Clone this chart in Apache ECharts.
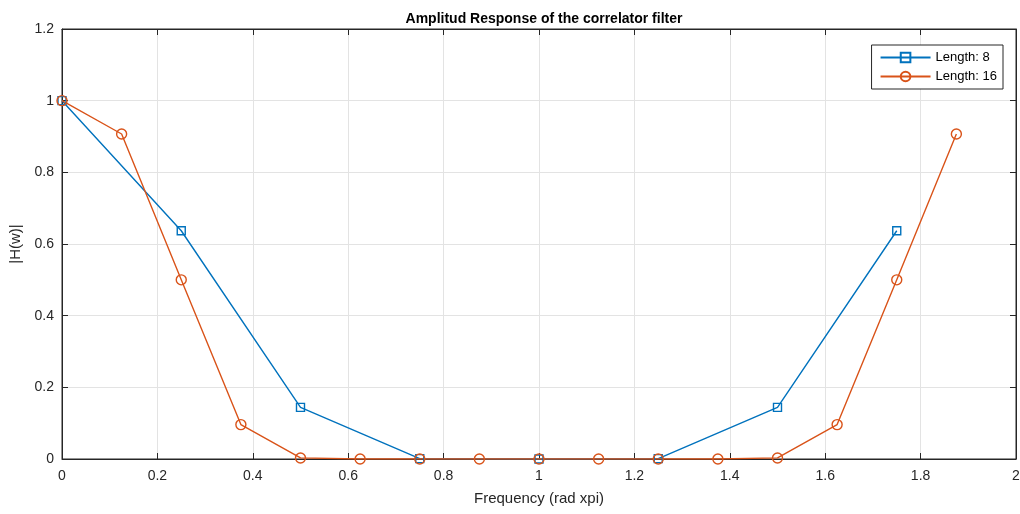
<!DOCTYPE html>
<html>
<head>
<meta charset="utf-8">
<script src="https://cdn.jsdelivr.net/npm/echarts@6/dist/echarts.min.js"></script>
<style>
  html, body { margin: 0; padding: 0; background: #fff; }
  #chart { width: 1020px; height: 514px; }
</style>
</head>
<body>
<div id="chart"></div>
<script>
// frequency points (rad x pi)
var freq8 = [0, 0.25, 0.5, 0.75, 1, 1.25, 1.5, 1.75];
var amp8 = [1, 0.637, 0.144, 0.001, 0, 0.001, 0.144, 0.637];
var freq16 = [0, 0.125, 0.25, 0.375, 0.5, 0.625, 0.75, 0.875, 1, 1.125, 1.25, 1.375, 1.5, 1.625, 1.75, 1.875];
var amp16 = [1, 0.907, 0.5, 0.096, 0.003, 0, 0, 0, 0, 0, 0, 0, 0.003, 0.096, 0.5, 0.907];
var seriesNames = ["Length: 8", "Length: 16"];
var seriesColors = ["#0072BD", "#D95319"];

function pairs(xs, ys) {
  return xs.map(function (x, i) {
    return [x, ys[i]];
  });
}

var font = "Liberation Sans, Arial, Helvetica, sans-serif";
var axisColor = "#262626";
var myChart = echarts.init(document.getElementById("chart"));

function tickStyle() {
  return { show: true, inside: true, length: 6, lineStyle: { color: axisColor } };
}

var option = {
  animation: false,
  textStyle: { fontFamily: font },
  title: {
    text: "Amplitud Response of the correlator filter",
    left: 539,
    textAlign: "center",
    top: 7,
    textStyle: { fontSize: 14, fontWeight: "bold", color: "#000", fontFamily: font },
  },
  grid: {
    left: 62,
    right: 4,
    top: 29,
    bottom: 55,
    outerBoundsMode: "none",
    containLabel: false,
    show: true,
    borderColor: axisColor,
    borderWidth: 1,
    backgroundColor: "#fff",
  },
  legend: {
    right: 17,
    top: 45,
    orient: "vertical",
    itemWidth: 50,
    itemHeight: 12,
    itemGap: 6,
    padding: [6, 6, 6, 8],
    borderColor: axisColor,
    borderWidth: 1,
    backgroundColor: "#fff",
    textStyle: { fontSize: 13, color: "#000", fontFamily: font },
    data: seriesNames,
  },
  xAxis: [
    {
      type: "value",
      min: 0,
      max: 2,
      interval: 0.2,
      name: "Frequency (rad xpi)",
      nameLocation: "middle",
      nameGap: 32,
      nameTextStyle: { fontSize: 15, color: axisColor },
      axisLine: { show: true, onZero: false, lineStyle: { color: axisColor } },
      axisTick: tickStyle(),
      axisLabel: { fontSize: 14, color: axisColor, margin: 10 },
      splitLine: { show: true, lineStyle: { color: "#e3e3e3" } },
    },
    {
      type: "value",
      position: "top",
      min: 0,
      max: 2,
      interval: 0.2,
      axisLine: { show: true, onZero: false, lineStyle: { color: axisColor } },
      axisTick: tickStyle(),
      axisLabel: { show: false },
      splitLine: { show: false },
    },
  ],
  yAxis: [
    {
      type: "value",
      min: 0,
      max: 1.2,
      interval: 0.2,
      name: "|H(w)|",
      nameLocation: "middle",
      nameGap: 35,
      nameTextStyle: { fontSize: 15, color: axisColor },
      axisLine: { show: true, onZero: false, lineStyle: { color: axisColor } },
      axisTick: tickStyle(),
      axisLabel: { fontSize: 14, color: axisColor, margin: 8 },
      splitLine: { show: true, lineStyle: { color: "#e3e3e3" } },
    },
    {
      type: "value",
      position: "right",
      min: 0,
      max: 1.2,
      interval: 0.2,
      axisLine: { show: true, onZero: false, lineStyle: { color: axisColor } },
      axisTick: tickStyle(),
      axisLabel: { show: false },
      splitLine: { show: false },
    },
  ],
  series: [
    {
      name: seriesNames[0],
      type: "line",
      symbol: "rect",
      symbolSize: 8,
      showAllSymbol: true,
      lineStyle: { color: seriesColors[0], width: 1.4 },
      itemStyle: { color: "rgba(255,255,255,0)", borderColor: seriesColors[0], borderWidth: 1.4 },
      data: pairs(freq8, amp8),
    },
    {
      name: seriesNames[1],
      type: "line",
      symbol: "circle",
      symbolSize: 10,
      showAllSymbol: true,
      lineStyle: { color: seriesColors[1], width: 1.4 },
      itemStyle: { color: "rgba(255,255,255,0)", borderColor: seriesColors[1], borderWidth: 1.4 },
      data: pairs(freq16, amp16),
    },
  ],
};

myChart.setOption(option);
</script>
</body>
</html>
